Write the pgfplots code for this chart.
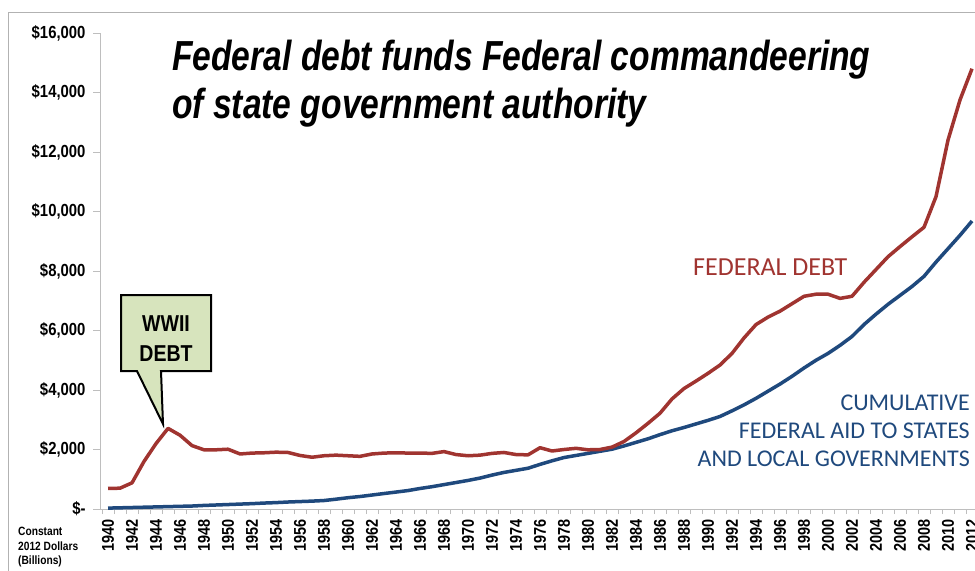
\documentclass[border=0pt]{standalone}
\usepackage{pgfplots}
\pgfplotsset{compat=1.18}
\usepackage{pgfplotstable}
\usepackage{fontspec}
\setmainfont{Liberation Sans}
\newfontfamily\narrowfont[FakeStretch=0.85]{Liberation Sans}
\newfontfamily\titlefont[FakeStretch=0.8]{Liberation Sans}
\newfontfamily\calfont{Carlito}
\definecolor{debtred}{RGB}{160,52,48}
\definecolor{aidblue}{RGB}{31,73,125}
\definecolor{axisgray}{RGB}{190,190,190}
\definecolor{calloutgreen}{RGB}{215,228,189}

\pgfplotstableread{
year debt aid
1940 690 30
1941 700 40
1942 880 50
1943 1600 60
1944 2200 70
1945 2710 80
1946 2480 90
1947 2130 100
1948 1990 120
1949 1990 135
1950 2010 150
1951 1850 165
1952 1880 180
1953 1890 200
1954 1910 215
1955 1900 235
1956 1800 250
1957 1740 265
1958 1790 285
1959 1810 330
1960 1790 380
1961 1770 420
1962 1850 470
1963 1880 520
1964 1890 570
1965 1880 620
1966 1880 690
1967 1870 750
1968 1930 820
1969 1830 890
1970 1790 960
1971 1810 1040
1972 1870 1140
1973 1900 1230
1974 1830 1300
1975 1820 1370
1976 2060 1500
1977 1950 1620
1978 2000 1730
1979 2040 1800
1980 1990 1870
1981 2000 1940
1982 2080 2010
1983 2270 2120
1984 2560 2240
1985 2880 2360
1986 3220 2500
1987 3700 2630
1988 4050 2740
1989 4300 2860
1990 4560 2980
1991 4840 3110
1992 5230 3300
1993 5750 3500
1994 6200 3720
1995 6450 3960
1996 6650 4200
1997 6900 4460
1998 7150 4740
1999 7220 5000
2000 7220 5230
2001 7080 5500
2002 7150 5800
2003 7620 6200
2004 8050 6550
2005 8480 6880
2006 8820 7180
2007 9150 7480
2008 9470 7820
2009 10500 8300
2010 12400 8750
2011 13750 9200
2012 14800 9680
}\datatable

\begin{document}
\begin{tikzpicture}
\path[use as bounding box] (0bp,0bp) rectangle (975bp,-571bp);
\draw[color=black!30, line width=1bp] (8bp,-571bp) -- (8bp,-12bp) -- (975bp,-12bp);
\begin{axis}[
  at={(100bp,-509bp)}, anchor=south west,
  scale only axis, width=875bp, height=476bp,
  xmin=1939.33, xmax=2012.25, ymin=0, ymax=16000,
  scaled y ticks=false,
  axis x line*=bottom, axis y line*=left,
  axis line style={draw=axisgray, line width=1bp, -},
  tick align=outside,
  xtick={1940,1942,...,2012},
  minor xtick={1939.5,1940.5,...,2011.5},
  major x tick style={draw=none},
  minor x tick style={draw=axisgray, line width=0.8bp},
  minor tick length=5bp,
  major tick length=7bp,
  major y tick style={draw=axisgray, line width=1bp},
  ytick={0,2000,...,16000},
  yticklabels={{\$-},{\$2,000},{\$4,000},{\$6,000},{\$8,000},{\$10,000},{\$12,000},{\$14,000},{\$16,000}},
  /pgf/number format/assume math mode=true,
  /pgf/number format/1000 sep={},
  xticklabel style={rotate=90, anchor=east, font=\narrowfont\bfseries\fontsize{17bp}{17bp}\selectfont},
  yticklabel style={anchor=east, font=\narrowfont\bfseries\fontsize{17.5bp}{17.5bp}\selectfont, xshift=-4bp},
  clip=true,
]
\addplot[aidblue, line width=3.5bp, line join=round] table[x=year, y=aid] {\datatable};
\addplot[debtred, line width=3.5bp, line join=round] table[x=year, y=debt] {\datatable};
\end{axis}

% title
\node[anchor=base west, inner sep=0pt, font=\titlefont\bfseries\itshape\fontsize{42bp}{48bp}\selectfont] at (172bp,-70bp) {Federal debt funds Federal commandeering};
\node[anchor=base west, inner sep=0pt, font=\titlefont\bfseries\itshape\fontsize{42bp}{48bp}\selectfont] at (172bp,-118bp) {of state government authority};

% callout
\filldraw[fill=calloutgreen, draw=black, line width=2bp, line join=miter]
  (121bp,-295bp) -- (211bp,-295bp) -- (211bp,-371bp) -- (161bp,-371bp) -- (163bp,-424bp) -- (137bp,-371bp) -- (121bp,-371bp) -- cycle;
\node[anchor=base, inner sep=0pt, font=\narrowfont\bfseries\fontsize{23bp}{23bp}\selectfont] at (166bp,-331bp) {WWII};
\node[anchor=base, inner sep=0pt, font=\narrowfont\bfseries\fontsize{23bp}{23bp}\selectfont] at (166bp,-361bp) {DEBT};

% series labels
\node[anchor=base west, inner sep=0pt, text=debtred, font=\calfont\fontsize{26bp}{26bp}\selectfont] at (693bp,-275bp) {FEDERAL DEBT};
\node[anchor=base east, inner sep=0pt, text=aidblue, font=\calfont\fontsize{24bp}{24bp}\selectfont] at (970bp,-410bp) {CUMULATIVE};
\node[anchor=base east, inner sep=0pt, text=aidblue, font=\calfont\fontsize{24bp}{24bp}\selectfont] at (970bp,-438bp) {FEDERAL AID TO STATES};
\node[anchor=base east, inner sep=0pt, text=aidblue, font=\calfont\fontsize{24bp}{24bp}\selectfont] at (970bp,-466bp) {AND LOCAL GOVERNMENTS};

% unit note
\node[anchor=base west, inner sep=0pt, font=\narrowfont\bfseries\fontsize{12bp}{12bp}\selectfont] at (18bp,-535.5bp) {Constant};
\node[anchor=base west, inner sep=0pt, font=\narrowfont\bfseries\fontsize{12bp}{12bp}\selectfont] at (18bp,-550.5bp) {2012 Dollars};
\node[anchor=base west, inner sep=0pt, font=\narrowfont\bfseries\fontsize{12bp}{12bp}\selectfont] at (18bp,-564.5bp) {(Billions)};
\end{tikzpicture}
\end{document}
